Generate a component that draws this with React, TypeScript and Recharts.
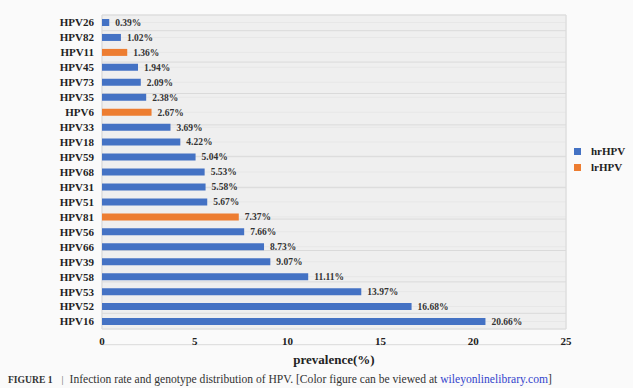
import { BarChart, Bar, XAxis, YAxis, CartesianGrid, Legend, LabelList } from 'recharts';

const genotypes = [
  'HPV26', 'HPV82', 'HPV11', 'HPV45', 'HPV73', 'HPV35', 'HPV6', 'HPV33', 'HPV18', 'HPV59', 'HPV68',
  'HPV31', 'HPV51', 'HPV81', 'HPV56', 'HPV66', 'HPV39', 'HPV58', 'HPV53', 'HPV52', 'HPV16',
];
const hrHPV = [
  0.39, 1.02, null, 1.94, 2.09, 2.38, null, 3.69, 4.22, 5.04, 5.53,
  5.58, 5.67, null, 7.66, 8.73, 9.07, 11.11, 13.97, 16.68, 20.66,
];
const lrHPV = [
  null, null, 1.36, null, null, null, 2.67, null, null, null, null,
  null, null, 7.37, null, null, null, null, null, null, null,
];
const xTicks = [0, 5, 10, 15, 20, 25];
const minorTicks = Array.from({ length: 26 }, (_, i) => i);
const rowBounds = Array.from({ length: genotypes.length + 1 }, (_, i) => i);

const data = genotypes.map((name, i) => ({ name, hrHPV: hrHPV[i], lrHPV: lrHPV[i] }));

const BLUE = '#4472c4';
const ORANGE = '#ed7d31';
const SERIF = '"Liberation Serif", "Times New Roman", serif';

const pct = (v: unknown) => (v == null ? '' : `${(v as number).toFixed(2)}%`);

function LegendBox({ payload }: any) {
  return (
    <div style={{ fontFamily: SERIF, fontWeight: 700, fontSize: 11, color: '#222' }}>
      {(payload || []).map((p: any) => (
        <div key={p.value} style={{ display: 'flex', alignItems: 'center', height: 16 }}>
          <span style={{ width: 7, height: 7, background: p.color, display: 'inline-block', marginRight: 10 }} />
          <span>{p.value}</span>
        </div>
      ))}
    </div>
  );
}

export default function App() {
  return (
    <div style={{ position: 'absolute', left: 0, top: 0, width: 633, height: 388, background: '#fafafa', overflow: 'hidden' }}>
      <BarChart
        width={633}
        height={370}
        data={data}
        layout="vertical"
        margin={{ top: 15, right: 7, left: 0, bottom: 0 }}
        barSize={7}
        style={{ fontFamily: SERIF }}
      >
        {/* minor grid: every 1 unit, row centres */}
        <CartesianGrid fill="#efefef" stroke="#e7e7e7" xAxisId="minor" yAxisId="0" />
        {/* major grid: every 5 units, row boundaries */}
        <CartesianGrid fill="none" stroke="#dadada" xAxisId="0" yAxisId="bounds" />
        <XAxis
          type="number"
          domain={[0, 25]}
          ticks={xTicks}
          height={41}
          axisLine={false}
          tickLine={false}
          tick={{ fontSize: 11, fontWeight: 700, fill: '#222', fontFamily: SERIF }}
          label={{
            value: 'prevalence(%)',
            position: 'insideBottom',
            offset: 6,
            style: { fontSize: 13, fontWeight: 700, fill: '#222', fontFamily: SERIF },
          }}
        />
        <XAxis xAxisId="minor" type="number" domain={[0, 25]} ticks={minorTicks} hide />
        <YAxis
          type="category"
          dataKey="name"
          width={102}
          axisLine={false}
          tickLine={false}
          interval={0}
          tick={{ fontSize: 11, fontWeight: 700, fill: '#222', fontFamily: SERIF }}
        />
        <YAxis yAxisId="bounds" type="number" domain={[0, genotypes.length]} ticks={rowBounds} hide />
        <Legend
          layout="vertical"
          align="right"
          verticalAlign="middle"
          content={<LegendBox />}
          wrapperStyle={{ width: 60, left: 574, right: 'auto', top: 143 }}
        />
        <Bar dataKey="hrHPV" name="hrHPV" stackId="a" fill={BLUE} isAnimationActive={false}>
          <LabelList
            dataKey="hrHPV"
            position="right"
            offset={6}
            formatter={pct}
            style={{ fontSize: 9.5, fontWeight: 700, fill: '#333', fontFamily: SERIF }}
          />
        </Bar>
        <Bar dataKey="lrHPV" name="lrHPV" stackId="a" fill={ORANGE} isAnimationActive={false}>
          <LabelList
            dataKey="lrHPV"
            position="right"
            offset={6}
            formatter={pct}
            style={{ fontSize: 9.5, fontWeight: 700, fill: '#333', fontFamily: SERIF }}
          />
        </Bar>
      </BarChart>
      <div
        style={{
          position: 'absolute',
          left: 8,
          top: 373,
          fontFamily: SERIF,
          fontSize: 11.6,
          color: '#333',
          whiteSpace: 'nowrap',
        }}
      >
        <span style={{ fontWeight: 700, fontSize: 9.6, letterSpacing: 0 }}>FIGURE 1</span>
        <span style={{ margin: '0 6px 0 9px', color: '#666', fontSize: 10 }}>|</span>
        Infection rate and genotype distribution of HPV. [Color figure can be viewed at{' '}
        <span style={{ color: '#3344cc' }}>wileyonlinelibrary.com</span>]
      </div>
    </div>
  );
}
